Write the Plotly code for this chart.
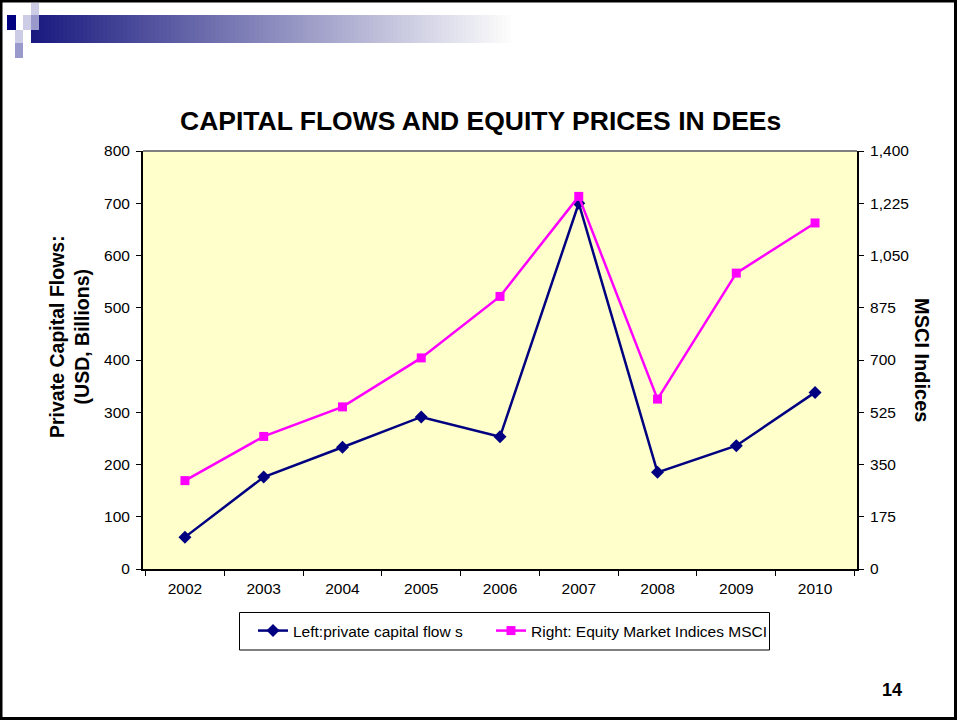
import plotly.graph_objects as go

years = ["2002", "2003", "2004", "2005", "2006", "2007", "2008", "2009", "2010"]
capital_flows = [61, 176, 233, 291, 253, 700, 185, 236, 338]
msci_indices = [296, 444, 543, 707, 913, 1248, 569, 991, 1159]
left_ticks = [0, 100, 200, 300, 400, 500, 600, 700, 800]
right_ticks = [0, 175, 350, 525, 700, 875, 1050, 1225, 1400]
right_tick_labels = ["0", "175", "350", "525", "700", "875", "1,050", "1,225", "1,400"]

W, H = 957, 720
L, R, T, B = 143, 857, 151, 569
FONT = "Liberation Sans, Arial, sans-serif"

def px(x):
    return (x - L) / (R - L)

def py(y):
    return (B - y) / (B - T)

fig = go.Figure()
fig.add_trace(go.Scatter(
    x=years, y=capital_flows, name="Left:private capital flow s",
    mode="lines+markers", legendwidth=193,
    line=dict(color="#000080", width=2.5),
    marker=dict(symbol="diamond", size=10, color="#000080"),
))
fig.add_trace(go.Scatter(
    x=years, y=msci_indices, name="Right: Equity Market Indices MSCI",
    mode="lines+markers", yaxis="y2",
    line=dict(color="#FF00FF", width=2.5),
    marker=dict(symbol="square", size=9, color="#FF00FF"),
))

shapes = []
# slide border
shapes.append(dict(type="rect", xref="paper", yref="paper", x0=px(1), x1=px(W - 1.5), y0=py(H - 1.5), y1=py(1),
                   line=dict(color="black", width=3), fillcolor="rgba(0,0,0,0)", layer="below"))
# gradient bar
n = 120
x_start, x_end = 31, 510
for i in range(n):
    t = i / (n - 1)
    r = int(26 + (252 - 26) * t)
    g = int(26 + (252 - 26) * t)
    b = int(128 + (252 - 128) * t)
    x0 = x_start + (x_end - x_start) * i / n
    x1 = x_start + (x_end - x_start) * (i + 1) / n + 0.6
    shapes.append(dict(type="rect", xref="paper", yref="paper", x0=px(x0), x1=px(x1), y0=py(43), y1=py(15),
                       line=dict(width=0), fillcolor=f"rgb({r},{g},{b})", layer="below"))
# decorative squares
squares = [
    (31, 39, 3, 15, "#CCCCE6"),
    (31, 39, 15, 30, "#9999CC"),
    (23, 31, 15, 30, "#CCCCE6"),
    (7, 16, 15, 30, "#000080"),
    (15, 23, 30, 43, "#CCCCE6"),
    (15, 23, 43, 58, "#9999CC"),
]
for x0, x1, y0, y1, c in squares:
    shapes.append(dict(type="rect", xref="paper", yref="paper", x0=px(x0), x1=px(x1), y0=py(y1), y1=py(y0),
                       line=dict(width=0), fillcolor=c, layer="below"))
# top border of plot area (gray)
shapes.append(dict(type="line", xref="paper", yref="paper", x0=0, x1=1, y0=1, y1=1,
                   line=dict(color="#808080", width=2)))
# legend frame
shapes.append(dict(type="rect", xref="paper", yref="paper", x0=px(239.5), x1=px(769.5), y0=py(650), y1=py(612.5),
                   line=dict(color="black", width=1), fillcolor="white", layer="below"))

annotations = [
    dict(text="<b>CAPITAL FLOWS AND EQUITY PRICES IN DEEs</b>", x=px(480), y=py(121), xref="paper", yref="paper",
         showarrow=False, font=dict(size=26.5, color="black", family=FONT), xanchor="center", yanchor="middle"),
    dict(text="<b>Private Capital Flows:<br>(USD, Billions)</b>", x=px(69), y=py(337), xref="paper", yref="paper",
         showarrow=False, textangle=-90, font=dict(size=19.5, color="black", family=FONT),
         xanchor="center", yanchor="middle"),
    dict(text="<b>MSCI Indices</b>", x=px(922), y=py(360), xref="paper", yref="paper",
         showarrow=False, textangle=90, font=dict(size=20, color="black", family=FONT),
         xanchor="center", yanchor="middle"),
    dict(text="<b>14</b>", x=px(891.5), y=py(690), xref="paper", yref="paper",
         showarrow=False, font=dict(size=18, color="black", family=FONT), xanchor="center", yanchor="middle"),
]

fig.update_layout(
    width=W, height=H,
    margin=dict(l=L, r=W - R, t=T, b=H - B, pad=0),
    paper_bgcolor="white", plot_bgcolor="#FFFFCC",
    font=dict(family=FONT, size=15.5, color="black"),
    showlegend=True,
    legend=dict(orientation="h", x=px(253), y=py(631), xanchor="left", yanchor="middle",
                borderwidth=0, bgcolor="rgba(0,0,0,0)",
                font=dict(size=15.5, family=FONT)),
    xaxis=dict(type="category", tickson="boundaries", showgrid=False, showline=True, linecolor="black",
               linewidth=2, ticks="outside", ticklen=5, tickcolor="black", zeroline=False,
               tickfont=dict(size=15.5), ticklabelstandoff=4),
    yaxis=dict(range=[0, 800], tickvals=left_ticks, showgrid=False, showline=True, linecolor="black",
               linewidth=2, ticks="outside", ticklen=5, tickcolor="black", zeroline=False,
               tickfont=dict(size=15.5), ticklabelstandoff=3),
    yaxis2=dict(range=[0, 1400], tickvals=right_ticks, ticktext=right_tick_labels, overlaying="y", side="right",
                showgrid=False, showline=True, linecolor="black", linewidth=2, ticks="outside", ticklen=5,
                tickcolor="black", zeroline=False, tickfont=dict(size=15.5), ticklabelstandoff=3),
    shapes=shapes,
    annotations=annotations,
)

fig.write_html("out.html", config={"displayModeBar": False},
               post_script="document.body.style.margin='0';document.body.style.padding='0';")
